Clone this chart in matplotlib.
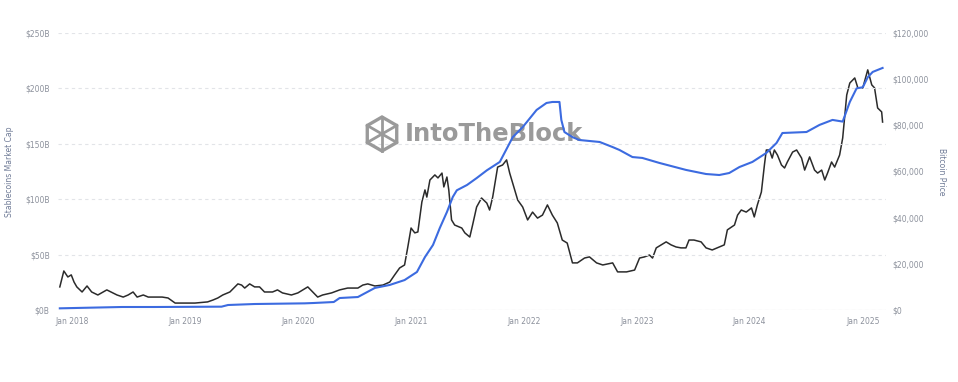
import matplotlib
matplotlib.use("Agg")
import matplotlib.pyplot as plt
import matplotlib.dates as mdates
import matplotlib.patches as mpatches
from matplotlib.transforms import IdentityTransform
import pandas as pd
import numpy as np

# Bitcoin price (USD)
btc_dates = ["2017-11-22", "2017-12-05", "2017-12-18", "2017-12-29", "2018-01-07", "2018-01-16",
             "2018-02-02", "2018-02-18", "2018-03-05", "2018-03-25", "2018-04-23", "2018-05-26",
             "2018-06-15", "2018-07-01", "2018-07-17", "2018-07-30", "2018-08-19", "2018-09-04",
             "2018-10-19", "2018-11-07", "2018-11-30", "2018-12-22", "2019-02-02", "2019-03-15",
             "2019-04-01", "2019-04-17", "2019-05-03", "2019-05-26", "2019-06-21", "2019-07-03",
             "2019-07-13", "2019-07-29", "2019-08-14", "2019-08-30", "2019-09-15", "2019-10-11",
             "2019-10-27", "2019-11-12", "2019-12-11", "2020-01-01", "2020-01-17", "2020-02-02",
             "2020-02-18", "2020-03-05", "2020-03-21", "2020-04-19", "2020-05-15", "2020-06-10",
             "2020-07-13", "2020-07-29", "2020-08-14", "2020-09-06", "2020-10-02", "2020-10-24",
             "2020-11-09", "2020-11-25", "2020-12-11", "2020-12-21", "2021-01-01", "2021-01-13",
             "2021-01-23", "2021-02-05", "2021-02-15", "2021-02-21", "2021-03-03", "2021-03-19",
             "2021-03-29", "2021-04-11", "2021-04-17", "2021-04-27", "2021-05-03", "2021-05-12",
             "2021-05-22", "2021-06-14", "2021-06-24", "2021-07-10", "2021-07-19", "2021-08-01",
             "2021-08-17", "2021-09-03", "2021-09-12", "2021-09-22", "2021-10-08", "2021-10-24",
             "2021-11-06", "2021-11-16", "2021-12-02", "2021-12-12", "2021-12-28", "2022-01-13",
             "2022-01-29", "2022-02-14", "2022-03-02", "2022-03-18", "2022-04-03", "2022-04-19",
             "2022-05-05", "2022-05-21", "2022-06-07", "2022-06-23", "2022-07-16", "2022-08-01",
             "2022-08-24", "2022-09-13", "2022-10-15", "2022-10-31", "2022-11-29", "2022-12-25",
             "2023-01-10", "2023-01-26", "2023-02-11", "2023-02-21", "2023-03-05", "2023-03-21",
             "2023-04-06", "2023-04-22", "2023-05-08", "2023-05-24", "2023-06-09", "2023-06-19",
             "2023-07-05", "2023-07-28", "2023-08-13", "2023-09-02", "2023-09-25", "2023-10-11",
             "2023-10-21", "2023-11-13", "2023-11-23", "2023-12-05", "2023-12-21", "2024-01-07",
             "2024-01-16", "2024-01-26", "2024-02-08", "2024-02-18", "2024-02-24", "2024-03-05",
             "2024-03-14", "2024-03-21", "2024-03-31", "2024-04-13", "2024-04-23", "2024-05-02",
             "2024-05-19", "2024-06-01", "2024-06-17", "2024-06-27", "2024-07-13", "2024-07-29",
             "2024-08-08", "2024-08-21", "2024-08-31", "2024-09-09", "2024-09-22", "2024-10-02",
             "2024-10-18", "2024-10-28", "2024-11-10", "2024-11-20", "2024-12-06", "2024-12-16",
             "2025-01-01", "2025-01-17", "2025-01-30", "2025-02-08", "2025-02-18", "2025-03-03",
             "2025-03-06"]
btc_price = [10000, 16900, 14300, 15200, 12100, 10000,
             7800, 10400, 7800, 6500, 8700, 6500,
             5600, 6500, 7800, 5600, 6500, 5600,
             5600, 5200, 3000, 3000, 3000, 3500,
             4300, 5200, 6500, 7800, 11300, 10800,
             9500, 11300, 10000, 10000, 7800, 7800,
             8700, 7400, 6500, 7400, 8700, 10000,
             7800, 5600, 6500, 7400, 8700, 9500,
             9500, 10800, 11300, 10400, 10800, 12100,
             15200, 18200, 19500, 26900, 35500, 33400,
             33800, 46800, 52000, 48900, 56300, 58500,
             57200, 59300, 53300, 57600, 52000, 39000,
             36800, 35500, 33400, 31600, 36800, 44600,
             48500, 46300, 43300, 48900, 61900, 62800,
             65000, 59300, 52000, 47600, 44600, 39000,
             42400, 39800, 41100, 45500, 41100, 37700,
             30300, 29000, 20400, 20400, 22500, 23000,
             20400, 19500, 20400, 16500, 16500, 17300,
             22500, 23000, 23800, 22500, 26900, 28200,
             29500, 28200, 27300, 26900, 26900, 30300,
             30300, 29500, 26900, 26000, 27300, 28200,
             34700, 36800, 41100, 43300, 42400, 44200,
             40300, 45500, 51100, 63000, 69300, 69300,
             65800, 69300, 67100, 62800, 61500, 64100,
             68400, 69300, 65800, 60600, 66300, 60600,
             59300, 60600, 56300, 59300, 64100, 61900,
             67100, 74500, 93100, 98300, 100500, 96200,
             96200, 104000, 97500, 96200, 87500, 85800,
             81400]

# Stablecoins market cap (USD billions)
stable_dates = ["2017-11-22", "2018-01-10", "2018-06-11", "2018-09-25", "2019-04-29", "2019-05-20",
                "2019-08-14", "2020-01-23", "2020-02-20", "2020-04-26", "2020-05-15", "2020-07-13",
                "2020-09-06", "2020-10-24", "2020-12-11", "2021-01-20", "2021-02-15", "2021-03-13",
                "2021-04-04", "2021-04-27", "2021-05-16", "2021-05-29", "2021-07-01", "2021-08-01",
                "2021-09-03", "2021-10-15", "2021-11-26", "2021-12-28", "2022-02-11", "2022-03-15",
                "2022-04-03", "2022-04-26", "2022-05-02", "2022-05-12", "2022-06-07", "2022-06-29",
                "2022-09-03", "2022-10-15", "2022-11-06", "2022-12-18", "2023-01-19", "2023-03-15",
                "2023-06-09", "2023-08-13", "2023-09-25", "2023-10-27", "2023-11-29", "2024-01-10",
                "2024-02-24", "2024-03-28", "2024-04-16", "2024-07-03", "2024-08-14", "2024-09-25",
                "2024-10-28", "2024-11-20", "2024-12-12", "2025-01-01", "2025-01-17", "2025-02-02",
                "2025-03-06"]
stable_cap = [1.5, 1.8, 2.7, 2.7, 3.0, 4.5,
              5.4, 6.0, 6.3, 7.2, 10.8, 11.7,
              19.9, 22.6, 27.0, 34.3, 47.8, 58.7,
              74.0, 88.4, 102.0, 108.0, 112.8, 119.0,
              126.0, 133.6, 156.0, 165.0, 180.5, 186.8,
              187.7, 187.7, 171.5, 160.6, 156.0, 153.4,
              151.6, 147.0, 144.4, 138.0, 137.2, 132.7,
              126.4, 122.7, 121.8, 123.6, 129.0, 133.6,
              141.7, 150.7, 159.7, 160.6, 167.0, 171.5,
              170.0, 187.7, 200.0, 201.0, 210.0, 214.8,
              218.4]

left_ticks = [0, 50, 100, 150, 200, 250]
right_ticks = [0, 20000, 40000, 60000, 80000, 100000, 120000]
year_ticks = ["2018-01-01", "2019-01-01", "2020-01-01", "2021-01-01",
              "2022-01-01", "2023-01-01", "2024-01-01", "2025-01-01"]

tick_col = "#8c919c"
label_col = "#6e7a96"

fig = plt.figure(figsize=(9.58, 3.82), dpi=100)
ax = fig.add_axes([0.0605, 0.1885, 0.864, 0.7253])
ax2 = ax.twinx()

ax.set_zorder(ax2.get_zorder() + 1)
ax.patch.set_visible(False)

ax2.plot(pd.to_datetime(btc_dates), btc_price, color="#2b2b2b", lw=1.1, zorder=3)
ax.plot(pd.to_datetime(stable_dates), stable_cap, color="#3c6be0", lw=1.5, zorder=4)

ax.set_xlim(pd.Timestamp("2017-11-16"), pd.Timestamp("2025-03-16"))
ax.set_ylim(0, 250)
ax2.set_ylim(0, 120000)

ax.set_yticks(left_ticks)
ax.set_yticklabels(["$%dB" % v for v in left_ticks])
ax2.set_yticks(right_ticks)
ax2.set_yticklabels(["$0" if v == 0 else "${:,}".format(v) for v in right_ticks])
ax.set_xticks(pd.to_datetime(year_ticks))
ax.xaxis.set_major_formatter(mdates.DateFormatter("Jan %Y"))

for a in (ax, ax2):
    for s in a.spines.values():
        s.set_visible(False)
    a.tick_params(length=0, labelsize=5.5, colors=tick_col)
ax.tick_params(axis="y", pad=6)
ax2.tick_params(axis="y", pad=5)
ax.tick_params(axis="x", pad=5)

ax.grid(axis="y", color="#e2e4e8", lw=0.8, ls=(0, (3, 3)))
ax.grid(axis="x", visible=False)
ax.axhline(0, color="#e6e8ec", lw=0.8, zorder=1)

ax.set_ylabel("Stablecoins Market Cap", fontsize=5.5, color=label_col, labelpad=8)
ax2.set_ylabel("Bitcoin Price", fontsize=5.5, color=label_col, rotation=270, labelpad=12)

# watermark
wm = "#9a9a9a"
fig.text(405 / 958, 1 - 134 / 382, "IntoTheBlock", fontsize=17.5, fontweight="bold", color=wm,
         va="center", ha="left", family="DejaVu Sans", zorder=0)
cx, cy, r = 382, 382 - 134, 17
hexagon = mpatches.RegularPolygon((cx, cy), 6, radius=r, orientation=0,
                                  fill=False, ec=wm, lw=2.4)
hexagon.set_transform(IdentityTransform())
fig.patches.append(hexagon)
for a1, a2 in ((90, 270), (150, 330), (30, 210)):
    t1, t2 = np.deg2rad(a1), np.deg2rad(a2)
    fig.add_artist(plt.Line2D([cx + r * np.cos(t1), cx + r * np.cos(t2)],
                              [cy + r * np.sin(t1), cy + r * np.sin(t2)],
                              color=wm, lw=2.0, transform=IdentityTransform()))

fig.savefig("out.png", dpi=100)
